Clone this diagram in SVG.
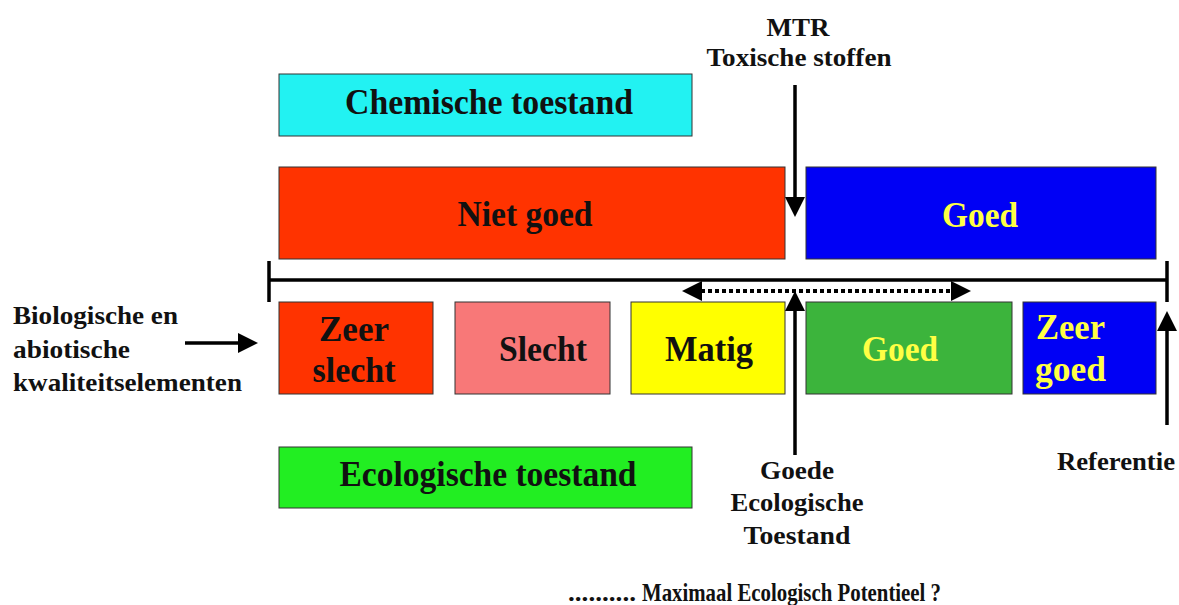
<svg xmlns="http://www.w3.org/2000/svg" width="1179" height="605" viewBox="0 0 1179 605">
<style>
text{font-family:"Liberation Serif","Times New Roman",serif;font-weight:bold;fill:#111}
.big{font-size:35px}
.lbl{font-size:25px}
.yel{fill:#FFFF44}
.box{stroke:#333;stroke-width:1}
.ln{stroke:#000;stroke-width:3.5;fill:none}
</style>
<defs>
<marker id="ah" markerUnits="userSpaceOnUse" markerWidth="20" markerHeight="20" refX="8" refY="10" orient="auto-start-reverse" viewBox="0 0 20 20">
<path d="M0,0 L20,10 L0,20 z" fill="#000"/>
</marker>
</defs>
<rect width="1179" height="605" fill="#fff"/>
<g id="chemische">
<rect class="box" x="279" y="74" width="413" height="62" fill="#22F2F2"/>
<text class="big" x="489" y="114" text-anchor="middle" textLength="288" lengthAdjust="spacingAndGlyphs">Chemische toestand</text>
</g>
<g id="nietgoed">
<rect class="box" x="279" y="167" width="506" height="92" fill="#FF3300"/>
<text class="big" x="525" y="226" text-anchor="middle" textLength="135" lengthAdjust="spacingAndGlyphs">Niet goed</text>
</g>
<g id="goed-chem">
<rect class="box" x="806" y="167" width="350" height="92" fill="#0000F5"/>
<text class="big yel" x="980" y="227" text-anchor="middle" textLength="76" lengthAdjust="spacingAndGlyphs">Goed</text>
</g>
<g id="mtr">
<text class="lbl" x="798" y="36" text-anchor="middle" textLength="63" lengthAdjust="spacingAndGlyphs">MTR</text>
<text class="lbl" x="799" y="66" text-anchor="middle" textLength="185" lengthAdjust="spacingAndGlyphs">Toxische stoffen</text>
</g>
<g id="zeerslecht">
<rect class="box" x="279" y="302" width="154" height="92" fill="#FF3300"/>
<text class="big" x="354" y="341" text-anchor="middle" textLength="70" lengthAdjust="spacingAndGlyphs">Zeer</text>
<text class="big" x="354" y="382" text-anchor="middle" textLength="83" lengthAdjust="spacingAndGlyphs">slecht</text>
</g>
<g id="slecht">
<rect class="box" x="455" y="302" width="155" height="92" fill="#F87878"/>
<text class="big" x="543" y="361" text-anchor="middle" textLength="88" lengthAdjust="spacingAndGlyphs">Slecht</text>
</g>
<g id="matig">
<rect class="box" x="631" y="302" width="154" height="92" fill="#FFFF00"/>
<text class="big" x="709" y="361" text-anchor="middle" textLength="88" lengthAdjust="spacingAndGlyphs">Matig</text>
</g>
<g id="goed-eco">
<rect class="box" x="806" y="302" width="206" height="92" fill="#3CB43C"/>
<text class="big yel" x="900" y="361" text-anchor="middle" textLength="76" lengthAdjust="spacingAndGlyphs">Goed</text>
</g>
<g id="zeergoed">
<rect class="box" x="1023" y="302" width="133" height="92" fill="#0000F5"/>
<text class="big yel" x="1036" y="339" textLength="69" lengthAdjust="spacingAndGlyphs">Zeer</text>
<text class="big yel" x="1035" y="381" textLength="71" lengthAdjust="spacingAndGlyphs">goed</text>
</g>
<g id="ecologische">
<rect class="box" x="279" y="447" width="413" height="61" fill="#22EE22"/>
<text class="big" x="488" y="486" text-anchor="middle" textLength="297" lengthAdjust="spacingAndGlyphs">Ecologische toestand</text>
</g>
<g id="kwaliteit">
<text class="lbl" x="13" y="324" textLength="165" lengthAdjust="spacingAndGlyphs">Biologische en</text>
<text class="lbl" x="13" y="358" textLength="117" lengthAdjust="spacingAndGlyphs">abiotische</text>
<text class="lbl" x="13" y="391" textLength="229" lengthAdjust="spacingAndGlyphs">kwaliteitselementen</text>
</g>
<g id="goede">
<text class="lbl" x="797" y="479" text-anchor="middle" textLength="74" lengthAdjust="spacingAndGlyphs">Goede</text>
<text class="lbl" x="797" y="511" text-anchor="middle" textLength="133" lengthAdjust="spacingAndGlyphs">Ecologische</text>
<text class="lbl" x="797" y="544" text-anchor="middle" textLength="107" lengthAdjust="spacingAndGlyphs">Toestand</text>
</g>
<g id="referentie">
<text class="lbl" x="1057" y="470" textLength="118" lengthAdjust="spacingAndGlyphs">Referentie</text>
</g>
<g id="potentieel">
<text class="lbl" x="568" y="601" textLength="68" lengthAdjust="spacingAndGlyphs">..........</text>
<text class="lbl" x="642" y="601" textLength="299" lengthAdjust="spacingAndGlyphs">Maximaal Ecologisch Potentieel ?</text>
</g>
<g id="connectors">
<line class="ln" x1="269" y1="280" x2="1167" y2="280"/>
<line class="ln" x1="269" y1="261" x2="269" y2="302"/>
<line class="ln" x1="1167" y1="261" x2="1167" y2="302"/>
<line class="ln" x1="795" y1="85" x2="795" y2="205" marker-end="url(#ah)"/>
<line x1="694" y1="291" x2="959" y2="291" stroke="#000" stroke-width="4" stroke-dasharray="4 3" marker-start="url(#ah)" marker-end="url(#ah)"/>
<line class="ln" x1="795" y1="455" x2="795" y2="303" marker-end="url(#ah)"/>
<line class="ln" x1="1167" y1="425" x2="1167" y2="323" marker-end="url(#ah)"/>
<line class="ln" x1="185" y1="343" x2="246" y2="343" marker-end="url(#ah)"/>
</g>
</svg>
